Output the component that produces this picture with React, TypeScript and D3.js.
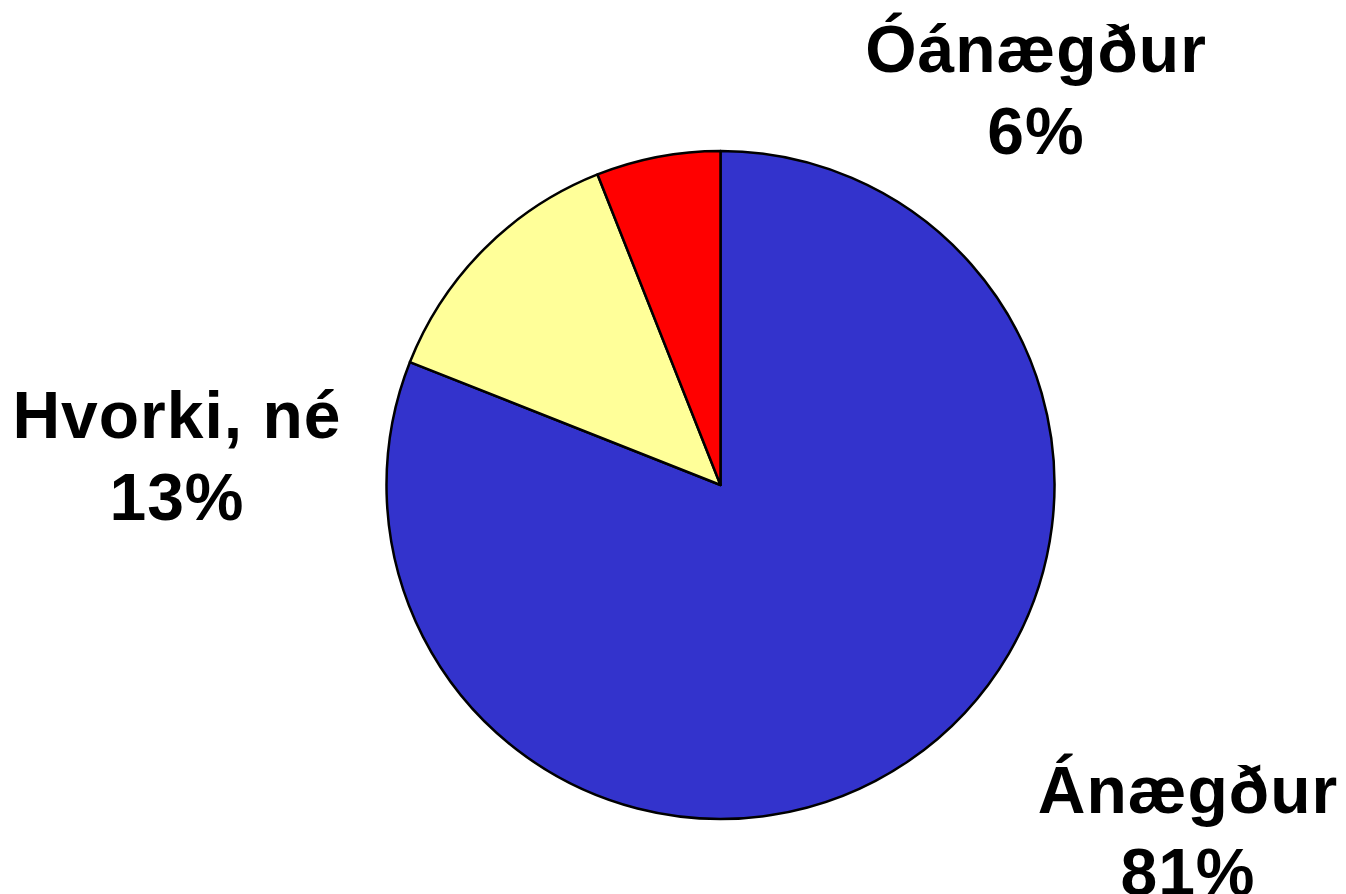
import React from "react";
import * as d3 from "d3";

const categories = ["Ánægður", "Hvorki, né", "Óánægður"];
const values = [81, 13, 6];
const colors = ["#3333CC", "#FFFF99", "#FF0000"];

// label anchor positions (layout only)
const labelPos: [number, number][] = [
  [1188, 813],
  [177, 438],
  [1036, 72],
];

export default function App() {
  const width = 1346;
  const height = 894;
  const cx = 720.5;
  const cy = 485;
  const r = 334;
  const pie = d3.pie<number>().sort(null).value((d) => d);
  const arcs = pie(values);
  const arc = d3.arc<d3.PieArcDatum<number>>().innerRadius(0).outerRadius(r);
  const total = d3.sum(values);
  return (
    <svg
      width={width}
      height={height}
      style={{ position: "absolute", left: 0, top: 0, background: "#fff" }}
    >
      <g transform={`translate(${cx},${cy})`}>
        {arcs.map((a, i) => (
          <path
            key={i}
            d={arc(a) || ""}
            fill={colors[i]}
            stroke="#000"
            strokeWidth={2.5}
            strokeLinejoin="round"
          />
        ))}
      </g>
      {categories.map((c, i) => (
        <text
          key={c}
          x={labelPos[i][0]}
          y={labelPos[i][1]}
          textAnchor="middle"
          fontFamily="'Liberation Sans', Arial, sans-serif"
          fontWeight="bold"
          fontSize={66}
          letterSpacing={1}
          fill="#000"
        >
          <tspan x={labelPos[i][0]}>{c}</tspan>
          <tspan x={labelPos[i][0]} dy={82}>
            {Math.round((values[i] / total) * 100)}%
          </tspan>
        </text>
      ))}
    </svg>
  );
}
